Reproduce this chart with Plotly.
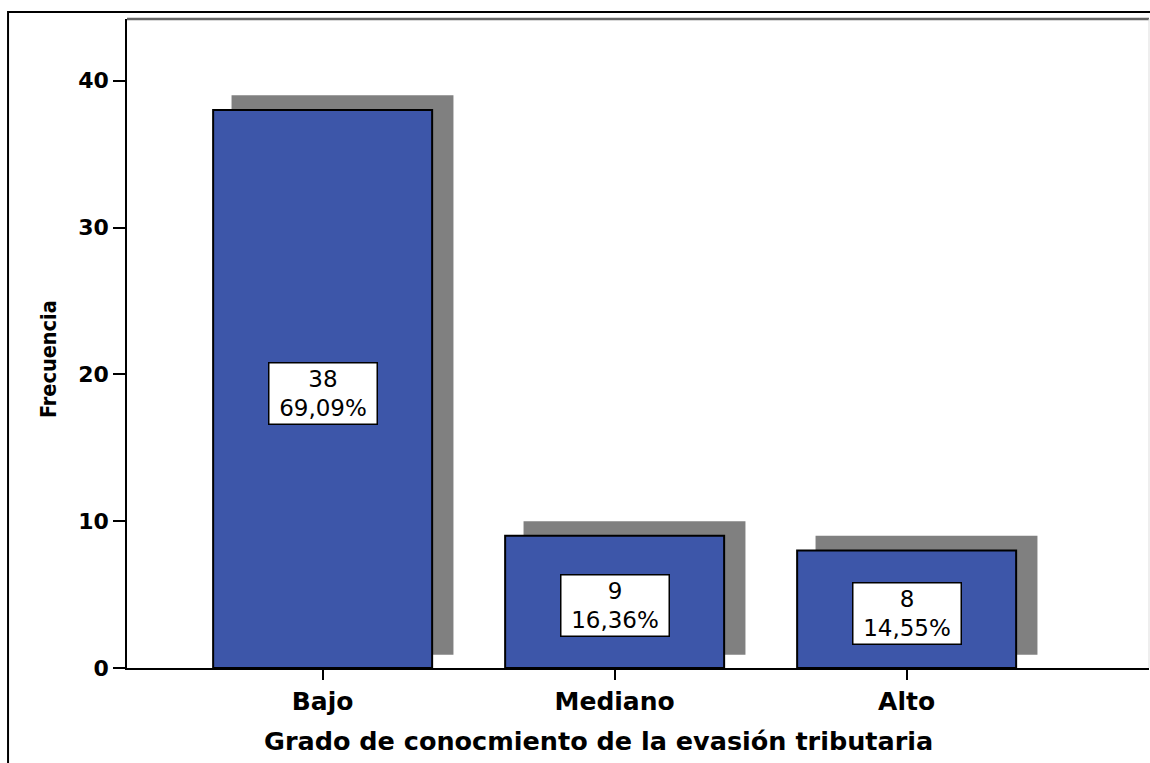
import plotly.graph_objects as go

# Frequency of each knowledge level
categories = ["Bajo", "Mediano", "Alto"]
counts = [38, 9, 8]
percent_labels = ["69,09%", "16,36%", "14,55%"]
y_ticks = [0, 10, 20, 30, 40]

BAR_BLUE = "#3d56a9"
SHADOW_GREY = "#808080"
BAR_WIDTH = 0.75
SHADOW_BASE = 0.9      # drop shadow sits slightly above the axis
SHADOW_SHIFT = 0.063   # and slightly to the right of each bar

fig = go.Figure()

# drop shadows behind the bars
fig.add_trace(go.Bar(
    x=categories,
    y=[c + 0.1 for c in counts],
    base=SHADOW_BASE,
    width=BAR_WIDTH + 0.01,
    offset=-BAR_WIDTH / 2 + SHADOW_SHIFT,
    marker=dict(color=SHADOW_GREY, line=dict(width=0)),
    hoverinfo="skip",
    showlegend=False,
))

# main bars
fig.add_trace(go.Bar(
    x=categories,
    y=counts,
    width=BAR_WIDTH,
    marker=dict(color=BAR_BLUE, line=dict(color="black", width=2)),
    hoverinfo="skip",
    showlegend=False,
))

# count / percentage boxes in the middle of each bar
for cat, n, pct in zip(categories, counts, percent_labels):
    fig.add_annotation(
        x=cat, y=n / 2, xref="x", yref="y",
        text=f"{n}<br>{pct}",
        showarrow=False,
        yshift=-4,
        font=dict(family="DejaVu Sans", size=23, color="black"),
        bgcolor="white",
        bordercolor="black",
        borderwidth=1.5,
        borderpad=1,
        width=105,
        height=58,
        align="center",
        valign="middle",
    )

# axis titles
fig.add_annotation(
    text="Grado de conocmiento de la evasión tributaria",
    xref="paper", yref="paper", x=0.461, y=-0.112,
    xanchor="center", yanchor="middle", showarrow=False,
    font=dict(family="DejaVu Sans", size=25.5, color="black", weight="bold"),
)
fig.add_annotation(
    text="Frecuencia",
    xref="paper", yref="paper", x=-0.0773, y=0.476,
    xanchor="center", yanchor="middle", showarrow=False, textangle=-90,
    font=dict(family="DejaVu Sans Condensed, Arial",
              size=21.5, color="black", weight="bold"),
)

# outer frame and the top/right edges of the plotting area
fig.add_shape(type="rect", xref="paper", yref="paper",
              x0=-0.1164, x1=1.2, y0=-0.4, y1=1.0108,
              line=dict(color="black", width=2), fillcolor="rgba(0,0,0,0)")
fig.add_shape(type="line", xref="paper", yref="paper",
              x0=0, x1=1, y0=1, y1=1,
              line=dict(color="#666666", width=2.5))
fig.add_shape(type="line", xref="paper", yref="paper",
              x0=1, x1=1, y0=0, y1=1,
              line=dict(color="#dddddd", width=1))

fig.update_layout(
    width=1150, height=763,
    margin=dict(l=127, r=1, t=19, b=95),
    paper_bgcolor="white",
    plot_bgcolor="white",
    barmode="overlay",
    font=dict(family="DejaVu Sans", color="black"),
    xaxis=dict(
        type="category",
        categoryorder="array", categoryarray=categories,
        range=[-0.67, 2.83],
        showline=True, linecolor="black", linewidth=1.5,
        ticks="outside", ticklen=10, tickwidth=1.5, tickcolor="black",
        tickfont=dict(family="DejaVu Sans", size=25, color="black", weight="bold"),
        showgrid=False, zeroline=False,
    ),
    yaxis=dict(
        range=[0, 44.2],
        tickvals=y_ticks,
        showline=True, linecolor="black", linewidth=1.5,
        ticks="outside", ticklen=12, tickwidth=1.5, tickcolor="black",
        tickfont=dict(family="DejaVu Sans", size=22, color="black", weight="bold"),
        showgrid=False, zeroline=False,
    ),
)

fig.write_html("out.html")
